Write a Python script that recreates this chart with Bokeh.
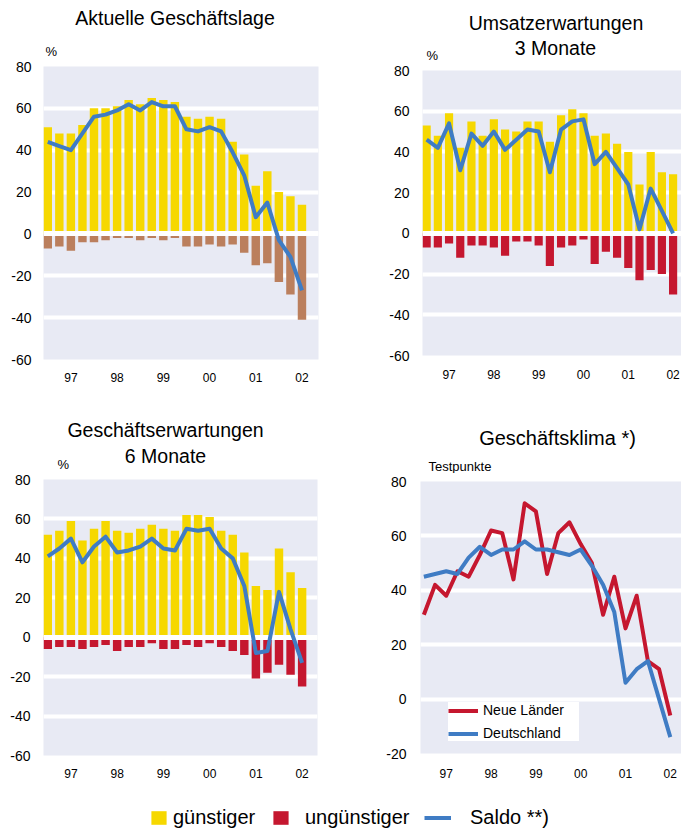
from bokeh.plotting import figure
from bokeh.models import Range1d, FixedTicker, Label, Legend, LegendItem
from bokeh.layouts import column, row
from bokeh.embed import file_html
from bokeh.resources import INLINE

# ---------------- data ----------------
quarters = ["97Q1", "97Q2", "97Q3", "97Q4", "98Q1", "98Q2", "98Q3", "98Q4",
            "99Q1", "99Q2", "99Q3", "99Q4", "00Q1", "00Q2", "00Q3", "00Q4",
            "01Q1", "01Q2", "01Q3", "01Q4", "02Q1", "02Q2", "02Q3"]

# Aktuelle Geschäftslage
lage_guenstig = [51, 48, 48, 52, 60, 60, 61, 64, 62, 65, 64, 63, 56, 55, 56, 55, 44, 38, 23, 30, 20, 18, 14]
lage_unguenstig = [-7, -6, -8, -4, -4, -3, -2, -2, -3, -2, -3, -2, -6, -6, -5, -6, -5, -9, -15, -14, -23, -29, -41]
lage_saldo = [44, 42, 40, 48, 56, 57, 59, 62, 59, 63, 61, 61, 50, 49, 51, 49, 39, 28, 8, 15, -3, -11, -27]

# Umsatzerwartungen 3 Monate
ums_guenstig = [53, 48, 59, 42, 55, 48, 56, 51, 50, 55, 55, 45, 58, 61, 59, 48, 49, 44, 40, 24, 40, 30, 29]
ums_unguenstig = [-7, -7, -5, -12, -6, -6, -7, -11, -4, -4, -6, -16, -7, -6, -3, -15, -9, -12, -17, -23, -18, -20, -30]
ums_saldo = [46, 42, 54, 31, 49, 43, 50, 41, 46, 51, 50, 30, 51, 55, 56, 34, 40, 32, 24, 2, 22, 11, 0]

# Geschäftserwartungen 6 Monate
erw_guenstig = [52, 54, 59, 49, 55, 59, 54, 53, 55, 57, 55, 54, 62, 62, 61, 54, 52, 43, 26, 24, 45, 33, 25]
erw_unguenstig = [-6, -5, -5, -6, -5, -4, -7, -5, -5, -3, -6, -6, -4, -5, -3, -5, -7, -9, -21, -18, -14, -19, -25]
erw_saldo = [41, 45, 50, 38, 46, 51, 43, 44, 46, 50, 45, 44, 55, 54, 55, 45, 40, 26, -8, -7, 23, 4, -13]

# Geschäftsklima (Testpunkte)
klima_neue_laender = [31, 42, 38, 47, 45, 53, 62, 61, 44, 72, 69, 46, 61, 65, 57, 50, 31, 45, 26, 38, 14, 11, -6]
klima_deutschland = [45, 46, 47, 46, 52, 56, 53, 55, 55, 58, 55, 55, 54, 53, 55, 49, 42, 32, 6, 11, 14, 0, -14]

pct_ticks = [-60, -40, -20, 0, 20, 40, 60, 80]
klima_ticks = [-20, 0, 20, 40, 60, 80]

# ---------------- style ----------------
FONT = "Liberation Sans"
BG = "#e8eaf4"
YELLOW = "#f6d800"
BROWN = "#bb7f5d"
RED = "#c5172f"
BLUE = "#3f7cc4"

x = list(range(len(quarters)))
year_ticks = [i for i, q in enumerate(quarters) if q.endswith("Q3")]
year_labels = {i: quarters[i][:2] for i in year_ticks}


def make_fig(w, h, mbl, mbr, mbt, mbb, xr, yr, yticks, xstand, ystand):
    p = figure(width=w, height=h, x_range=Range1d(*xr), y_range=Range1d(*yr),
               output_backend="svg", toolbar_location=None, tools="", title=None)
    p.frame_align = False
    p.min_border_left = mbl
    p.min_border_right = mbr
    p.min_border_top = mbt
    p.min_border_bottom = mbb
    p.background_fill_color = BG
    p.border_fill_color = "white"
    p.outline_line_color = None
    p.xgrid.visible = False
    p.ygrid.ticker = FixedTicker(ticks=yticks[1:-1])
    p.ygrid.grid_line_color = "white"
    p.ygrid.grid_line_width = 4
    p.yaxis.ticker = FixedTicker(ticks=yticks)
    p.yaxis.major_label_overrides = {t: str(t) for t in yticks}
    p.xaxis.ticker = FixedTicker(ticks=year_ticks)
    p.xaxis.major_label_overrides = year_labels
    for ax in (p.xaxis, p.yaxis):
        ax.axis_line_color = None
        ax.major_tick_line_color = None
        ax.minor_tick_line_color = None
        ax.major_tick_out = 0
        ax.major_tick_in = 0
        ax.major_label_text_font = FONT
        ax.major_label_text_color = "black"
    p.xaxis.major_label_text_font_size = "12px"
    p.yaxis.major_label_text_font_size = "14px"
    p.xaxis.major_label_standoff = xstand
    p.yaxis.major_label_standoff = ystand
    return p


def make_header(w, h):
    hd = figure(width=w, height=h, x_range=Range1d(0, 1), y_range=Range1d(0, 1),
                output_backend="svg", toolbar_location=None, tools="", title=None,
                x_axis_location=None, y_axis_location=None, min_border=0)
    hd.frame_align = False
    hd.grid.visible = False
    hd.outline_line_color = None
    hd.background_fill_color = "white"
    hd.border_fill_color = "white"
    return hd


def add_text(p, text, sx, sy, size, align="center"):
    p.add_layout(Label(x=sx, y=sy, x_units="screen", y_units="screen", text=text,
                       text_font=FONT, text_font_size=f"{size}px", text_align=align,
                       text_baseline="middle", text_color="black"))


def bar_panel(p, pos, neg, neg_color, saldo):
    p.vbar(x=x, top=pos, bottom=0, width=0.73, fill_color=YELLOW, line_color=None)
    p.vbar(x=x, top=neg, bottom=0, width=0.73, fill_color=neg_color, line_color=None)
    p.hspan(y=[0], line_color="white", line_width=5)
    p.line(x=x, y=saldo, line_color=BLUE, line_width=4, line_join="round")


# Headers (titles and unit labels)
h1 = make_header(340, 58)
add_text(h1, "Aktuelle Geschäftslage", 174.5, 40.5, 19.5)
add_text(h1, "%", 45, 7.5, 13, "left")

h2 = make_header(341, 62)
add_text(h2, "Umsatzerwartungen", 215.5, 40, 19.5)
add_text(h2, "3 Monate", 215, 15, 19.5)
add_text(h2, "%", 86, 7.5, 13, "left")

h3 = make_header(340, 71)
add_text(h3, "Geschäftserwartungen", 165, 42, 19.5)
add_text(h3, "6 Monate", 165, 16, 19.5)
add_text(h3, "%", 57, 7.5, 13, "left")

h4 = make_header(341, 73)
add_text(h4, "Geschäftsklima *)", 217, 36, 20)
add_text(h4, "Testpunkte", 88, 7.5, 13, "left")

# Panel 1
p1 = make_fig(340, 342, 43, 22, 8, 41, (-0.37, 23.43), (-60, 80), pct_ticks, 13, 12)
bar_panel(p1, lage_guenstig, lage_unguenstig, BROWN, lage_saldo)

# Panel 2
p2 = make_fig(341, 338, 82, 0, 8, 45, (-0.37, 22.75), (-60, 80), pct_ticks, 14, 13)
bar_panel(p2, ums_guenstig, ums_unguenstig, RED, ums_saldo)

# Panel 3
p3 = make_fig(340, 319, 43, 23, 8, 35, (-0.37, 23.33), (-60, 80), pct_ticks, 13, 13)
bar_panel(p3, erw_guenstig, erw_unguenstig, RED, erw_saldo)

# Panel 4
p4 = make_fig(341, 317, 80, 0, 8, 37, (-0.3, 23.0), (-20, 80), klima_ticks, 15, 14)
r_nl = p4.line(x=x, y=klima_neue_laender, line_color=RED, line_width=4, line_join="round")
r_de = p4.line(x=x, y=klima_deutschland, line_color=BLUE, line_width=4, line_join="round")
leg4 = Legend(items=[LegendItem(label="Neue Länder", renderers=[r_nl]),
                     LegendItem(label="Deutschland", renderers=[r_de])],
              location=(28, 12))
leg4.padding = 5
leg4.spacing = 7
leg4.glyph_width = 30
leg4.glyph_height = 13
leg4.label_height = 13
leg4.label_width = 96
leg4.label_standoff = 5
leg4.border_line_color = None
leg4.background_fill_color = "white"
leg4.background_fill_alpha = 1.0
leg4.label_text_font = FONT
leg4.label_text_font_size = "14px"
leg4.label_text_color = "black"
p4.add_layout(leg4, "center")

# Bottom legend (swatch renderers sit outside the visible range)
pl = make_header(681, 41)
rg = pl.vbar(x=[-5], top=[-5], width=0.5, fill_color=YELLOW, line_color=None)
rr = pl.vbar(x=[-5], top=[-5], width=0.5, fill_color=RED, line_color=None)
rb = pl.line(x=[-5, -4], y=[-5, -5], line_color=BLUE, line_width=4)


def bottom_legend(label, rend, loc, gw, stand):
    lg = Legend(items=[LegendItem(label=label, renderers=[rend])], location=loc)
    lg.padding = 0
    lg.margin = 0
    lg.glyph_width = gw
    lg.glyph_height = 17
    lg.label_height = 17
    lg.label_standoff = stand
    lg.border_line_color = None
    lg.background_fill_alpha = 0
    lg.label_text_font = FONT
    lg.label_text_font_size = "20px"
    lg.label_text_color = "black"
    pl.add_layout(lg, "center")


bottom_legend("günstiger", rg, (149, 2), 19, 5)
bottom_legend("ungünstiger", rr, (271, 2), 19, 15)
bottom_legend("Saldo **)", rb, (424, 2), 27, 19)

top_row = row(column(h1, p1), column(h2, p2))
mid_row = row(column(h3, p3), column(h4, p4))
layout = column(top_row, mid_row, pl)
open("out.html", "w").write(file_html(layout, INLINE))
